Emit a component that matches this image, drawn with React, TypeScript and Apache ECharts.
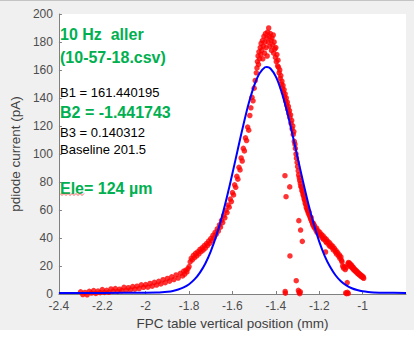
import React, { useEffect, useRef } from "react";
import * as echarts from "echarts";

// ---- Data ----
const xTickLabels = [-2.4, -2.2, -2.0, -1.8, -1.6, -1.4, -1.2, -1.0];

const leftTail: [number, number][] = [
  [-2.30, 1.6], [-2.29, -0.4], [-2.28, 1.1], [-2.27, -0.6], [-2.26, 1.9], [-2.25, 0.7], [-2.24, 2.4], [-2.23, 0.4],
  [-2.22, 2.1], [-2.21, 0.9], [-2.20, 3.2], [-2.19, 1.1], [-2.18, 2.6], [-2.17, 1.2], [-2.16, 3.6], [-2.15, 2.0],
  [-2.14, 3.9], [-2.13, 1.8], [-2.12, 3.4], [-2.11, 2.4], [-2.10, 4.8], [-2.09, 2.6], [-2.08, 4.5], [-2.07, 3.0],
  [-2.06, 5.3], [-2.05, 3.4], [-2.04, 5.6], [-2.03, 3.9], [-2.02, 6.5], [-2.01, 4.8], [-2.00, 6.7], [-1.99, 4.9],
  [-1.98, 7.5], [-1.97, 5.6], [-1.96, 8.3], [-1.95, 6.4], [-1.94, 9.1], [-1.93, 7.2], [-1.92, 10.2], [-1.91, 8.1],
  [-1.90, 11.1], [-1.89, 9.2], [-1.88, 12.3], [-1.87, 10.3], [-1.86, 13.6], [-1.85, 11.4], [-1.84, 14.8], [-1.83, 12.9],
  [-1.825, 16.3], [-1.82, 14.2], [-1.815, 17.0], [-1.81, 15.8], [-1.805, 18.2], [-1.80, 19.6], [-1.795, 23.0], [-1.79, 25.5],
];

const risingEdge: [number, number][] = [
  [-1.785, 24.4], [-1.78, 27.6], [-1.775, 25.9], [-1.77, 29.0], [-1.765, 27.2], [-1.76, 30.1], [-1.755, 28.6], [-1.75, 31.8],
  [-1.745, 30.2], [-1.74, 33.0], [-1.735, 31.4], [-1.73, 34.5], [-1.725, 32.8], [-1.72, 36.0], [-1.715, 34.6], [-1.71, 37.8],
  [-1.705, 36.2], [-1.70, 39.6], [-1.695, 38.1], [-1.69, 41.8], [-1.685, 40.2], [-1.68, 44.1], [-1.675, 42.6], [-1.67, 46.5],
  [-1.665, 45.0], [-1.66, 49.4], [-1.655, 47.8], [-1.65, 52.6], [-1.645, 51.0], [-1.64, 56.1], [-1.635, 54.4], [-1.63, 59.8],
  [-1.625, 58.2], [-1.62, 63.5], [-1.615, 62.0], [-1.61, 67.8], [-1.605, 66.0], [-1.60, 72.4], [-1.595, 70.8], [-1.59, 78.0],
  [-1.585, 76.2], [-1.58, 84.1], [-1.575, 82.0], [-1.57, 90.5], [-1.565, 88.6], [-1.56, 97.2], [-1.555, 95.0], [-1.55, 104.0],
  [-1.545, 102.2], [-1.54, 111.5], [-1.535, 109.6], [-1.53, 119.2], [-1.525, 117.0], [-1.52, 127.5], [-1.515, 133.0], [-1.51, 140.5],
  [-1.505, 138.0], [-1.50, 147.0], [-1.495, 152.5], [-1.49, 158.0], [-1.487, 161.5],
];

const peakCluster: [number, number][] = [
  [-1.485, 166], [-1.482, 170], [-1.48, 164], [-1.478, 173], [-1.475, 168], [-1.472, 176], [-1.47, 171], [-1.468, 179],
  [-1.465, 174], [-1.462, 181], [-1.46, 168], [-1.458, 177], [-1.455, 184], [-1.452, 172], [-1.45, 180], [-1.448, 186],
  [-1.445, 176], [-1.442, 183], [-1.44, 170], [-1.438, 187], [-1.435, 180], [-1.433, 190], [-1.43, 184], [-1.428, 177],
  [-1.425, 186], [-1.422, 181], [-1.42, 174], [-1.418, 183], [-1.415, 178], [-1.412, 185], [-1.41, 172], [-1.408, 180],
  [-1.405, 175], [-1.402, 169], [-1.40, 176], [-1.398, 166], [-1.395, 171], [-1.392, 163], [-1.39, 167],
];

const fallingEdge: [number, number][] = [
  [-1.388, 162], [-1.385, 158], [-1.382, 160], [-1.38, 154], [-1.377, 156], [-1.375, 150], [-1.372, 152], [-1.37, 147],
  [-1.367, 149], [-1.365, 144], [-1.362, 146], [-1.36, 141], [-1.357, 143], [-1.355, 138], [-1.352, 140], [-1.35, 135],
  [-1.347, 137], [-1.345, 132], [-1.342, 134], [-1.34, 129], [-1.337, 131], [-1.335, 126], [-1.332, 128], [-1.33, 122],
  [-1.327, 124], [-1.325, 118], [-1.322, 120], [-1.32, 114], [-1.317, 116], [-1.315, 109], [-1.312, 107], [-1.31, 104],
  [-1.307, 100], [-1.305, 97], [-1.302, 94], [-1.30, 91], [-1.297, 88], [-1.295, 85], [-1.292, 83], [-1.29, 81],
  [-1.287, 79], [-1.285, 77], [-1.282, 76], [-1.28, 74], [-1.277, 73], [-1.275, 71], [-1.272, 70], [-1.27, 68],
  [-1.267, 67], [-1.265, 65], [-1.262, 64], [-1.26, 62], [-1.257, 61], [-1.255, 60], [-1.252, 59], [-1.25, 57.5],
  [-1.247, 58.5], [-1.245, 56], [-1.242, 55], [-1.24, 53.5], [-1.237, 54.5], [-1.235, 52], [-1.232, 51], [-1.23, 49.5],
  [-1.227, 50.5], [-1.225, 48], [-1.222, 49], [-1.22, 47], [-1.215, 45.5], [-1.212, 47], [-1.21, 44], [-1.205, 45],
  [-1.20, 42.5], [-1.197, 44], [-1.195, 41.5], [-1.19, 42.5], [-1.185, 40], [-1.182, 41.5], [-1.18, 39], [-1.175, 40],
  [-1.17, 37.5], [-1.167, 39], [-1.165, 36.5], [-1.16, 37.5], [-1.155, 35], [-1.152, 36.5], [-1.15, 34], [-1.145, 35],
  [-1.14, 33], [-1.137, 34], [-1.135, 31.5], [-1.13, 32.5], [-1.125, 30], [-1.122, 31], [-1.12, 28.5], [-1.115, 29.5],
  [-1.11, 27], [-1.107, 28], [-1.105, 25.5], [-1.10, 26.5], [-1.097, 24], [-1.095, 23],
];

const rightTail: [number, number][] = [
  [-1.092, 20], [-1.088, 18.5], [-1.085, 19.5], [-1.08, 17.5], [-1.076, 18.8],
  [-1.068, 21.5], [-1.065, 22.5], [-1.062, 20.5], [-1.06, 22], [-1.057, 21], [-1.055, 19.5], [-1.052, 20.8], [-1.05, 19],
  [-1.047, 19.8], [-1.045, 18], [-1.042, 18.8], [-1.04, 17.2], [-1.037, 17.8], [-1.035, 16.5], [-1.032, 17], [-1.03, 15.8],
  [-1.027, 16.3], [-1.025, 15], [-1.022, 15.5], [-1.02, 14.3], [-1.017, 14.8], [-1.015, 13.6], [-1.012, 14], [-1.01, 13],
  [-1.007, 13.4], [-1.005, 12.4], [-1.002, 12.8], [-1.0, 11.8], [-0.997, 12.2], [-0.995, 11.2],
];

const outliers: [number, number][] = [
  [-1.358, 84.5], [-1.353, 69.5], [-1.336, 76.5], [-1.294, 52.4], [-1.286, 45.7], [-1.278, 37.6], [-1.335, 27.2],
  [-1.306, 9.5], [-1.171, 30], [-1.357, 1.8], [-1.356, 0.6], [-1.296, 2.6], [-1.293, 1.2], [-1.29, 0.2], [-1.287, 1.6],
  [-1.078, 0.8], [-1.074, 0.2], [-1.07, 1.2], [-1.066, 0.4], [-1.071, 8.2],
];

const fitX = [-2.4, -2.2, -2.0, -1.95, -1.925, -1.9, -1.875, -1.85, -1.825, -1.8, -1.775, -1.75, -1.725, -1.7, -1.675, -1.65,
  -1.625, -1.6, -1.575, -1.55, -1.525, -1.5, -1.475, -1.45, -1.4417, -1.425, -1.4, -1.375, -1.35, -1.325, -1.3, -1.275,
  -1.25, -1.225, -1.2, -1.175, -1.15, -1.125, -1.1, -1.075, -1.05, -1.025, -1.0, -0.975, -0.95, -0.9, -0.8];
const fitY = [0.8, 0.8, 0.9, 1.0, 1.2, 1.6, 2.2, 3.2, 4.7, 7.0, 10.4, 15.3, 21.8, 30.5, 41.3, 54.4,
  69.6, 86.2, 103.6, 120.6, 136.2, 148.9, 157.7, 162.0, 162.2, 161.1, 155.3, 145.0, 131.2, 115.0, 97.7, 80.5,
  64.3, 49.8, 37.4, 27.3, 19.4, 13.4, 9.1, 6.1, 4.1, 2.8, 1.9, 1.4, 1.15, 0.9, 0.8];

const GREEN = "#00b050";
const FONT = "'Liberation Sans', Arial, sans-serif";

export default function App() {
  const ref = useRef<HTMLDivElement>(null);
  useEffect(() => {
    if (!ref.current) return;
    const chart = echarts.init(ref.current, undefined, { renderer: "svg" });
    const measured = [...leftTail, ...risingEdge, ...peakCluster, ...fallingEdge, ...rightTail, ...outliers];
    const fit = fitX.map((x, i) => [x, fitY[i]]);
    const squiggle: number[][] = [];
    for (let i = 0; i <= 12; i++) squiggle.push([60 + i * 2, i % 2 === 0 ? 193.5 : 195.5]);
    chart.setOption({
      animation: false,
      backgroundColor: "transparent",
      grid: { left: 49, top: 14, right: 14, bottom: 46, show: true, backgroundColor: "#ffffff", borderWidth: 0 },
      xAxis: {
        type: "value", min: -2.4, max: -0.8, interval: 0.2,
        name: "FPC table vertical position (mm)", nameLocation: "middle", nameGap: 21,
        nameTextStyle: { fontFamily: FONT, fontSize: 13.5, color: "#404040" },
        axisLine: { show: true, lineStyle: { color: "#808080", width: 1 } },
        axisTick: { show: true, inside: true, length: 3, customValues: xTickLabels, lineStyle: { color: "#808080" } },
        axisLabel: {
          customValues: xTickLabels, margin: 6, fontFamily: FONT, fontSize: 12, color: "#4d4d4d",
          formatter: (v: number) => String(Math.round(v * 10) / 10),
        },
        splitLine: { show: false },
      },
      yAxis: {
        type: "value", min: 0, max: 200, interval: 20,
        name: "pdiode current (pA)", nameLocation: "middle", nameGap: 31, nameRotate: 90,
        nameTextStyle: { fontFamily: FONT, fontSize: 13.5, color: "#404040" },
        axisLine: { show: true, lineStyle: { color: "#808080", width: 1 } },
        axisTick: { show: true, inside: true, length: 3, lineStyle: { color: "#808080" } },
        axisLabel: { margin: 6, fontFamily: FONT, fontSize: 12, color: "#4d4d4d" },
        splitLine: { show: false },
      },
      series: [
        {
          type: "scatter", data: measured, symbol: "circle", symbolSize: 5.5, clip: false,
          itemStyle: { color: "#ff0000" }, z: 2,
        },
        {
          type: "line", data: fit, smooth: 0.3, showSymbol: false, clip: true,
          lineStyle: { color: "#0000ff", width: 2 }, z: 3,
        },
      ],
      graphic: [
        { type: "text", x: 60, y: 34, style: { text: "10 Hz  aller", font: `bold 16px ${FONT}`, fill: GREEN, verticalAlign: "middle" } },
        { type: "text", x: 60, y: 57, style: { text: "(10-57-18.csv)", font: `bold 16px ${FONT}`, fill: GREEN, verticalAlign: "middle" } },
        { type: "text", x: 60, y: 92.5, style: { text: "B1 = 161.440195", font: `13px ${FONT}`, fill: "#000000", verticalAlign: "middle" } },
        { type: "text", x: 60, y: 112, style: { text: "B2 = -1.441743", font: `bold 16px ${FONT}`, fill: GREEN, verticalAlign: "middle" } },
        { type: "text", x: 60, y: 132.5, style: { text: "B3 = 0.140312", font: `13px ${FONT}`, fill: "#000000", verticalAlign: "middle" } },
        { type: "text", x: 60, y: 149.5, style: { text: "Baseline 201.5", font: `13px ${FONT}`, fill: "#000000", verticalAlign: "middle" } },
        { type: "text", x: 60, y: 188, style: { text: "Ele= 124 µm", font: `bold 16px ${FONT}`, fill: GREEN, verticalAlign: "middle" } },
        { type: "polyline", shape: { points: squiggle }, style: { stroke: "#ff3030", lineWidth: 0.8, fill: "none" } },
      ],
    });
    return () => chart.dispose();
  }, []);
  return (
    <div style={{ position: "fixed", left: 0, top: 0, width: 420, height: 340, background: "#ffffff" }}>
      <div style={{ position: "absolute", left: 0, top: 0, width: 414, height: 330, background: "#f0f0f0", borderTop: "1px solid #c4c4c4", boxSizing: "border-box" }} />
      <div ref={ref} style={{ position: "absolute", left: 0, top: 0, width: 420, height: 340 }} />
    </div>
  );
}
